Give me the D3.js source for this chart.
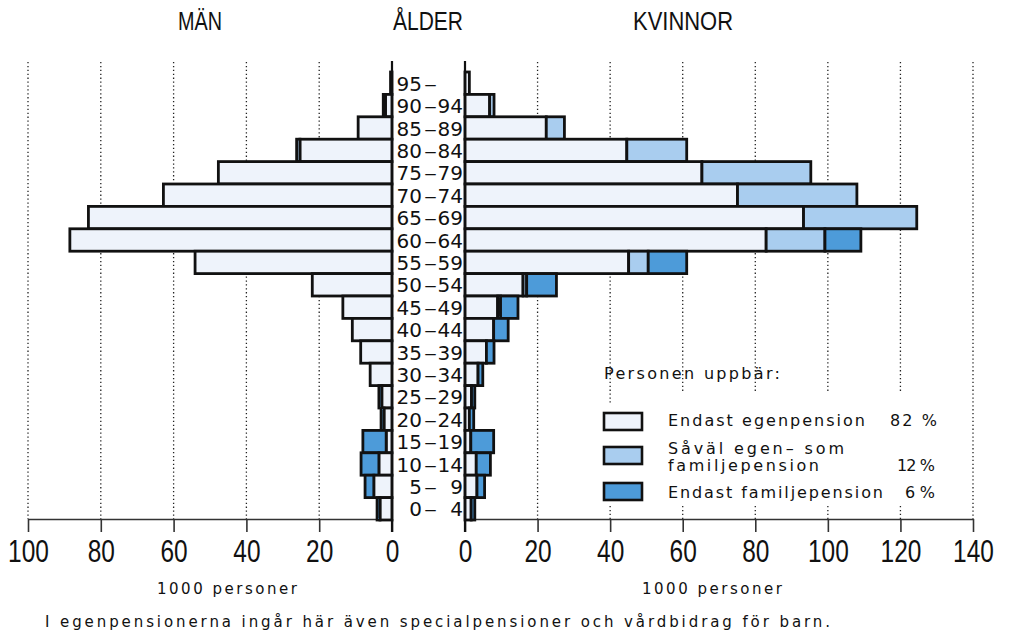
<!DOCTYPE html>
<html><head><meta charset="utf-8">
<script src="https://cdn.jsdelivr.net/npm/d3@7/dist/d3.min.js"></script>
<style>
body{margin:0;background:#fff;}
svg{display:block;}
</style></head>
<body>
<svg id="c" width="1012" height="634"></svg>
<script>
// ---- data (1000 personer) ----
const ageLow  = ["95","90","85","80","75","70","65","60","55","50","45","40","35","30","25","20","15","10","5","0"];
const ageHigh = ["","94","89","84","79","74","69","64","59","54","49","44","39","34","29","24","19","14","9","4"];
const ageKeys = ageLow.map((d,i)=>d+"-"+ageHigh[i]);

const menEgen   = [0.4,1.8,9.3,25.3,47.7,62.8,83.4,88.5,54.1,21.9,13.5,10.9,8.6,6.0,2.8,2.2,1.6,3.6,5.0,3.3];
const menBoth   = [0,0.6,0,0.9,0,0,0,0,0,0,0,0,0,0,0,0,0,0,0,0];
const menFam    = [0,0,0,0,0,0,0,0,0,0,0,0,0,0,0.8,0.8,6.4,4.9,2.4,0.8];

const womenEgen = [1.2,6.8,22.4,44.6,65.3,75.1,93.3,83.0,45.1,16.0,9.0,7.9,5.9,3.6,1.8,1.2,1.6,3.1,3.3,1.7];
const womenBoth = [0,1.2,5.0,16.5,30.0,32.9,31.2,16.2,5.4,1.0,0.8,0,0,0,0,0,0,0,0,0];
const womenFam  = [0,0,0,0,0,0,0,9.9,10.6,8.2,4.8,4.0,2.1,1.3,0.9,1.2,6.3,3.9,2.1,1.0];

const menTicks   = [0,20,40,60,80,100];
const womenTicks = [0,20,40,60,80,100,120,140];

const seriesNames = ["Endast egenpension","Såväl egen– som familjepension","Endast familjepension"];
const seriesShares = ["82 %","12 %","6 %"];
const colors = ["#eef3fb","#a9cdef","#4d9bd9"];

// ---- chart ----
const svg = d3.select("#c");
const xMen = d3.scaleLinear().domain([0,100]).range([392,28]);
const xWomen = d3.scaleLinear().domain([0,140]).range([465,973]);
const y = d3.scaleBand().domain(ageKeys).range([72,520]).padding(0);
const axisY = 519;
const tfont = "'Liberation Sans','Arial',sans-serif";
const sfont = "'DejaVu Sans',sans-serif";

// gridlines (dotted)
const grid = svg.append("g").attr("stroke","#222").attr("stroke-width",1.3).attr("stroke-dasharray","1.3,2.6");
menTicks.filter(v=>v>0).forEach(v=>{
  grid.append("line").attr("x1",xMen(v)).attr("x2",xMen(v)).attr("y1",62).attr("y2",axisY);
});
womenTicks.filter(v=>v>0).forEach(v=>{
  const x = xWomen(v);
  if (v>=40 && v<=120) {
    const cut = v===40 ? 405 : 391;
    grid.append("line").attr("x1",x).attr("x2",x).attr("y1",62).attr("y2",cut);
    grid.append("line").attr("x1",x).attr("x2",x).attr("y1",506).attr("y2",axisY);
  } else {
    grid.append("line").attr("x1",x).attr("x2",x).attr("y1",62).attr("y2",axisY);
  }
});

// bottom axes
function styleAxis(g){
  g.select(".domain").attr("stroke","#333").attr("stroke-width",1.6);
  g.selectAll(".tick line").attr("stroke","#333").attr("stroke-width",1.6);
  g.selectAll(".tick text").attr("y",21).attr("fill","#111")
    .style("font-family",tfont).style("font-size","31px")
    .attr("textLength",function(){return 13.6*this.textContent.length;})
    .attr("lengthAdjust","spacingAndGlyphs");
}
svg.append("g").attr("transform",`translate(0,${axisY})`)
  .call(d3.axisBottom(xMen).tickValues(menTicks).tickSize(13).tickSizeOuter(0).tickFormat(d3.format("d")))
  .call(styleAxis);
svg.append("g").attr("transform",`translate(0,${axisY})`)
  .call(d3.axisBottom(xWomen).tickValues(womenTicks).tickSize(13).tickSizeOuter(0).tickFormat(d3.format("d")))
  .call(styleAxis);

// stacked bars
function stackRows(a,b,c){
  return ageKeys.map((k,i)=>{
    const vals=[a[i],b[i],c[i]];
    let acc=0;
    return vals.map((v,s)=>{const seg={key:k,s:s,x0:acc,x1:acc+v};acc+=v;return seg;});
  }).flat().filter(d=>d.x1>d.x0);
}
const menSegs = stackRows(menEgen,menBoth,menFam);
const womenSegs = stackRows(womenEgen,womenBoth,womenFam);

svg.append("g").selectAll("rect").data(menSegs).join("rect")
  .attr("x",d=>xMen(d.x1)).attr("width",d=>xMen(d.x0)-xMen(d.x1))
  .attr("y",d=>y(d.key)).attr("height",y.bandwidth())
  .attr("fill",d=>colors[d.s]).attr("stroke","#111").attr("stroke-width",2.8);
svg.append("g").selectAll("rect").data(womenSegs).join("rect")
  .attr("x",d=>xWomen(d.x0)).attr("width",d=>xWomen(d.x1)-xWomen(d.x0))
  .attr("y",d=>y(d.key)).attr("height",y.bandwidth())
  .attr("fill",d=>colors[d.s]).attr("stroke","#111").attr("stroke-width",2.8);

// vertical axis lines
[xMen(0), xWomen(0)].forEach(x=>{
  svg.append("line").attr("x1",x).attr("x2",x).attr("y1",61).attr("y2",532)
    .attr("stroke","#111").attr("stroke-width",2.2);
});

// age labels
const lab = svg.append("g").attr("fill","#111")
  .style("font-family",sfont).style("font-size","20px");
ageKeys.forEach((k,i)=>{
  const cy = y(k)+y.bandwidth()/2 + 7.5;
  lab.append("text").attr("x",422).attr("y",cy).attr("text-anchor","end").text(ageLow[i]);
  lab.append("text").attr("x",424).attr("y",cy).attr("textLength",13).attr("lengthAdjust","spacingAndGlyphs").text("–");
  if (ageHigh[i]) lab.append("text").attr("x",463).attr("y",cy).attr("text-anchor","end").text(ageHigh[i]);
});

// titles
[["MÄN",200,44],["ÅLDER",428,70],["KVINNOR",683,100]].forEach(([t,x,w])=>{
  svg.append("text").attr("x",x-w/2).attr("y",30)
    .attr("textLength",w).attr("lengthAdjust","spacingAndGlyphs")
    .style("font-family",tfont).style("font-size","25px").attr("fill","#111").text(t);
});

// unit labels
[[157,"1000 personer"],[642,"1000 personer"]].forEach(([x,t])=>{
  svg.append("text").attr("x",x).attr("y",594).attr("textLength",140).attr("lengthAdjust","spacing")
    .style("font-family",sfont).style("font-size","15px").attr("fill","#111").text(t);
});
svg.append("text").attr("x",45).attr("y",627).attr("textLength",785).attr("lengthAdjust","spacing")
  .style("font-family",sfont).style("font-size","15px").attr("fill","#111")
  .text("I egenpensionerna ingår här även specialpensioner och vårdbidrag för barn.");

// legend
const lg = svg.append("g").style("font-family",sfont).style("font-size","16px").attr("fill","#111");
lg.append("text").attr("x",604).attr("y",379).attr("textLength",176).attr("lengthAdjust","spacing").text("Personen uppbär:");
const boxY = [413,447,483];
boxY.forEach((by,i)=>{
  lg.append("rect").attr("x",604).attr("y",by).attr("width",38).attr("height",17)
    .attr("fill",colors[i]).attr("stroke","#111").attr("stroke-width",2.6);
});
lg.append("text").attr("x",668).attr("y",426).attr("textLength",197).attr("lengthAdjust","spacing").text("Endast egenpension");
lg.append("text").attr("x",890).attr("y",426).attr("textLength",47).attr("lengthAdjust","spacing").text(seriesShares[0]);
lg.append("text").attr("x",668).attr("y",454).attr("textLength",176).attr("lengthAdjust","spacing").text("Såväl egen– som");
lg.append("text").attr("x",668).attr("y",471).attr("textLength",151).attr("lengthAdjust","spacing").text("familjepension");
lg.append("text").attr("x",897).attr("y",471).attr("textLength",38).attr("lengthAdjust","spacing").text(seriesShares[1]);
lg.append("text").attr("x",668).attr("y",498).attr("textLength",215).attr("lengthAdjust","spacing").text("Endast familjepension");
lg.append("text").attr("x",905).attr("y",498).attr("textLength",30).attr("lengthAdjust","spacing").text(seriesShares[2]);
</script>
</body></html>
